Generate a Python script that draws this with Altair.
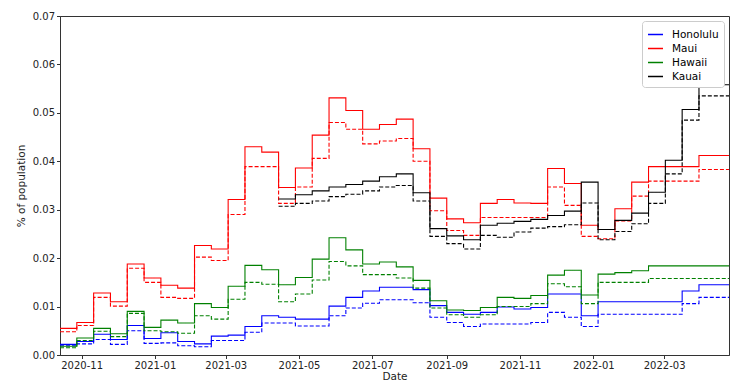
import altair as alt
import pandas as pd

# Biweekly periods starting 2020-10-14, last period ends 2022-04-24
start_date = "2020-10-14"
end_date = "2022-04-24"
n_periods = 40

counties = ["Honolulu", "Maui", "Hawaii", "Kauai"]
colors = ["#0000ff", "#ff0000", "#008000", "#000000"]

honolulu_solid = [0.0022, 0.0028, 0.0043, 0.0032, 0.0061, 0.0034, 0.0046, 0.0028, 0.0023, 0.0039,
                  0.0041, 0.0059, 0.0081, 0.0078, 0.0074, 0.0074, 0.0101, 0.0119, 0.0132, 0.0140,
                  0.0140, 0.0135, 0.0102, 0.0088, 0.0084, 0.0088, 0.0099, 0.0095, 0.0098, 0.0126,
                  0.0126, 0.0081, 0.0110, 0.0110, 0.0110, 0.0110, 0.0110, 0.0132, 0.0145, 0.0145]
honolulu_dashed = [0.0019, 0.0023, 0.0032, 0.0022, 0.0050, 0.0024, 0.0025, 0.0019, 0.0017, 0.0030,
                   0.0030, 0.0047, 0.0066, 0.0066, 0.0060, 0.0060, 0.0081, 0.0097, 0.0107, 0.0114,
                   0.0114, 0.0108, 0.0078, 0.0067, 0.0059, 0.0064, 0.0064, 0.0064, 0.0067, 0.0088,
                   0.0078, 0.0059, 0.0084, 0.0084, 0.0084, 0.0084, 0.0084, 0.0106, 0.0119, 0.0119]
maui_solid = [0.0055, 0.0067, 0.0128, 0.0110, 0.0188, 0.0159, 0.0144, 0.0138, 0.0226, 0.0219,
              0.0321, 0.0430, 0.0419, 0.0346, 0.0386, 0.0454, 0.0531, 0.0505, 0.0466, 0.0476,
              0.0487, 0.0426, 0.0324, 0.0281, 0.0273, 0.0313, 0.0321, 0.0314, 0.0313, 0.0385,
              0.0354, 0.0268, 0.0259, 0.0302, 0.0357, 0.0389, 0.0389, 0.0389, 0.0412, 0.0412]
maui_dashed = [0.0048, 0.0061, 0.0119, 0.0101, 0.0179, 0.0150, 0.0119, 0.0117, 0.0202, 0.0195,
               0.0290, 0.0389, 0.0389, 0.0313, 0.0347, 0.0406, 0.0480, 0.0466, 0.0436, 0.0442,
               0.0447, 0.0400, 0.0298, 0.0257, 0.0247, 0.0284, 0.0284, 0.0284, 0.0284, 0.0347,
               0.0309, 0.0245, 0.0240, 0.0277, 0.0328, 0.0359, 0.0359, 0.0359, 0.0383, 0.0383]
hawaii_solid = [0.0018, 0.0035, 0.0055, 0.0044, 0.0090, 0.0057, 0.0072, 0.0066, 0.0106, 0.0098,
                0.0142, 0.0185, 0.0176, 0.0145, 0.0160, 0.0198, 0.0242, 0.0217, 0.0188, 0.0192,
                0.0182, 0.0154, 0.0112, 0.0093, 0.0092, 0.0098, 0.0119, 0.0117, 0.0123, 0.0165,
                0.0175, 0.0124, 0.0167, 0.0170, 0.0174, 0.0184, 0.0184, 0.0184, 0.0184, 0.0184]
hawaii_dashed = [0.0015, 0.0030, 0.0049, 0.0038, 0.0086, 0.0050, 0.0048, 0.0045, 0.0081, 0.0074,
                 0.0115, 0.0150, 0.0146, 0.0110, 0.0126, 0.0155, 0.0193, 0.0184, 0.0166, 0.0166,
                 0.0159, 0.0138, 0.0097, 0.0083, 0.0078, 0.0083, 0.0100, 0.0100, 0.0106, 0.0147,
                 0.0141, 0.0106, 0.0150, 0.0150, 0.0150, 0.0158, 0.0158, 0.0158, 0.0158, 0.0158]
kauai_solid = [None] * 13 + [0.0322, 0.0331, 0.0339, 0.0347, 0.0352, 0.0359, 0.0368,
               0.0374, 0.0335, 0.0261, 0.0246, 0.0238, 0.0268, 0.0272, 0.0276, 0.0280, 0.0288,
               0.0297, 0.0357, 0.0259, 0.0278, 0.0293, 0.0336, 0.0402, 0.0507, 0.0556, 0.0558]
kauai_dashed = [None] * 13 + [0.0307, 0.0313, 0.0318, 0.0327, 0.0332, 0.0339, 0.0347,
                0.0350, 0.0318, 0.0245, 0.0230, 0.0219, 0.0247, 0.0243, 0.0254, 0.0262, 0.0265,
                0.0269, 0.0314, 0.0238, 0.0255, 0.0271, 0.0313, 0.0374, 0.0485, 0.0535, 0.0535]

series = {
    ("Honolulu", "solid"): honolulu_solid,
    ("Honolulu", "dashed"): honolulu_dashed,
    ("Maui", "solid"): maui_solid,
    ("Maui", "dashed"): maui_dashed,
    ("Hawaii", "solid"): hawaii_solid,
    ("Hawaii", "dashed"): hawaii_dashed,
    ("Kauai", "solid"): kauai_solid,
    ("Kauai", "dashed"): kauai_dashed,
}

dates = list(pd.date_range(start_date, periods=n_periods, freq="14D")) + [pd.Timestamp(end_date)]

rows = []
for (county, kind), vals in series.items():
    vals_ext = list(vals) + [vals[-1]]
    for d, v in zip(dates, vals_ext):
        if v is None:
            continue
        rows.append({"date": d, "county": county, "kind": kind, "value": v})
df = pd.DataFrame(rows)

x_ticks = [alt.DateTime(year=y, month=m, date=1) for (y, m) in
           [(2020, 11), (2021, 1), (2021, 3), (2021, 5), (2021, 7), (2021, 9), (2021, 11), (2022, 1), (2022, 3)]]

chart = alt.Chart(df).mark_line(interpolate="step-after", strokeWidth=1.1).encode(
    x=alt.X("date:T", title="Date",
            scale=alt.Scale(domain=[alt.DateTime(year=2020, month=10, date=14),
                                    alt.DateTime(year=2022, month=4, date=24)], nice=False),
            axis=alt.Axis(values=x_ticks, format="%Y-%m", grid=False, labelAngle=0,
                          labelPadding=2, titlePadding=1, tickSize=3.5)),
    y=alt.Y("value:Q", title="% of population",
            scale=alt.Scale(domain=[0, 0.07], nice=False),
            axis=alt.Axis(values=[0, 0.01, 0.02, 0.03, 0.04, 0.05, 0.06, 0.07], format=".2f", grid=False,
                          labelPadding=2, titlePadding=6, tickSize=3.5)),
    color=alt.Color("county:N", title=None,
                    scale=alt.Scale(domain=counties, range=colors),
                    sort=counties,
                    legend=alt.Legend(orient="top-right", offset=5, symbolType="stroke",
                                      symbolSize=225, symbolStrokeWidth=1.5,
                                      labelFontSize=10.5, labelOffset=8,
                                      strokeColor="#cccccc", fillColor="white",
                                      padding=5, cornerRadius=3, rowPadding=0)),
    strokeDash=alt.StrokeDash("kind:N", scale=alt.Scale(domain=["solid", "dashed"], range=[[1, 0], [4, 2]]),
                              legend=None),
    detail="kind:N",
).properties(
    width=669, height=339,
    padding={"left": 8, "top": 3, "right": 5, "bottom": 0},
).configure_view(
    stroke="#333333", strokeWidth=1
).configure_axis(
    labelFont="DejaVu Sans", titleFont="DejaVu Sans", labelFontSize=10, titleFontSize=10.5,
    titleFontWeight="normal", labelColor="#222222", titleColor="#222222",
    domainColor="#333333", tickColor="#333333"
).configure_legend(
    labelFont="DejaVu Sans"
)

chart.save("out.html", embed_options={"renderer": "svg", "actions": False})
